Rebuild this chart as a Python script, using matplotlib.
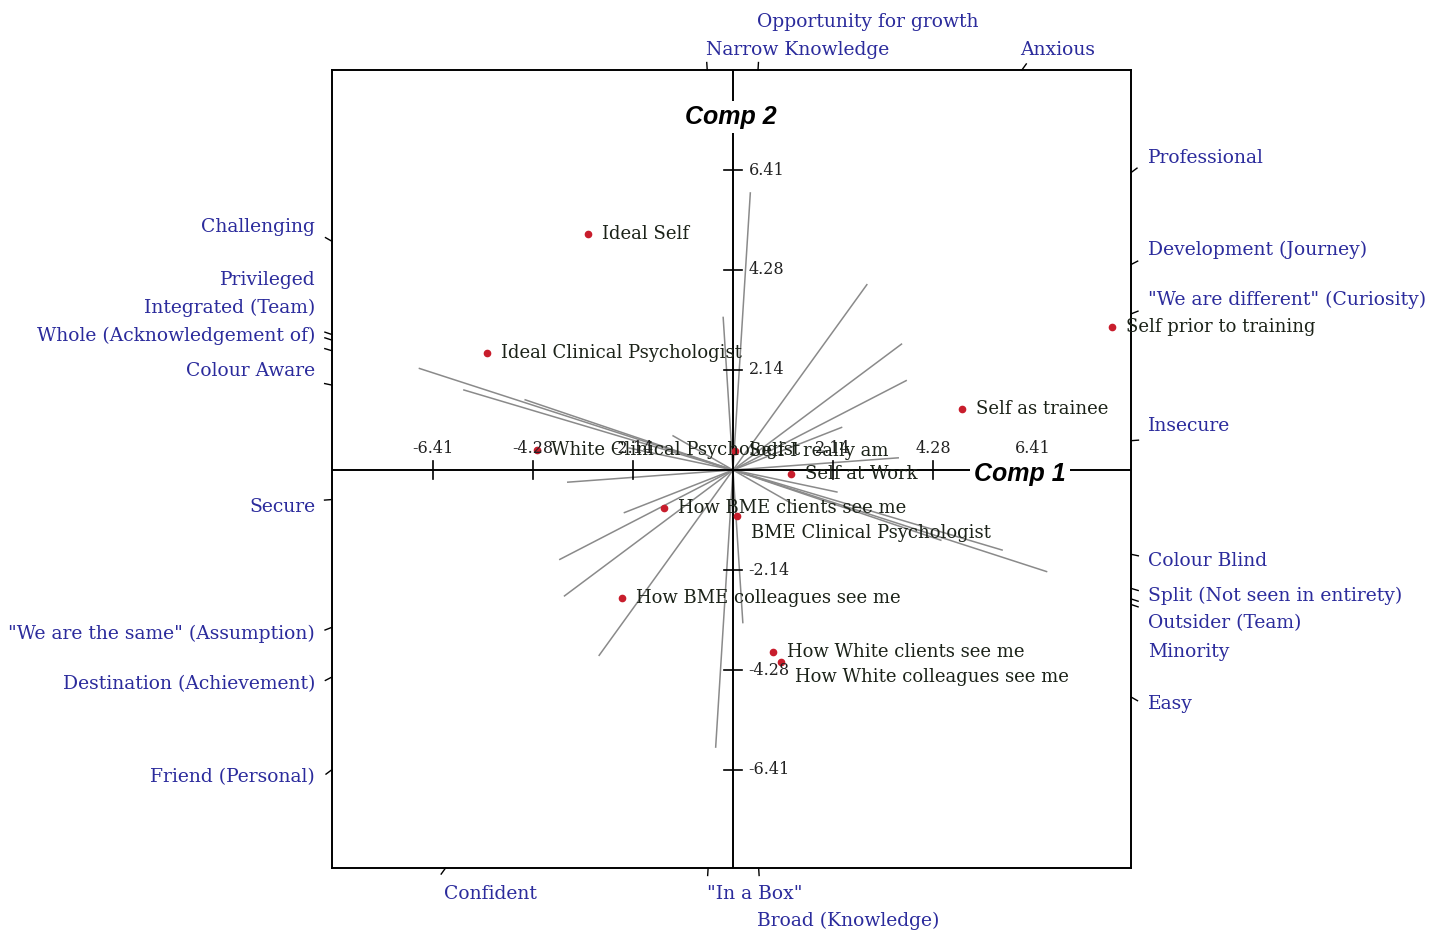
import numpy as np
import matplotlib.pyplot as plt

# element scores on components 1 and 2
element_names = ["Ideal Self", "Ideal Clinical Psychologist", "Self prior to training",
                 "Self as trainee", "White Clinical Psychologist", "Self I really am",
                 "Self at Work", "How BME clients see me", "BME Clinical Psychologist",
                 "How BME colleagues see me", "How White clients see me",
                 "How White colleagues see me"]
element_x = [-3.10, -5.26, 8.10, 4.89, -4.19, 0.05, 1.24, -1.47, 0.09, -2.37, 0.85, 1.03]
element_y = [5.04, 2.50, 3.06, 1.30, 0.43, 0.40, -0.09, -0.81, -0.98, -2.74, -3.89, -4.10]

# construct loadings: pole_pos lies at the (x, y) end, pole_neg at the opposite end
pole_pos = ["Easy", "Minority", "Outsider (Team)", "Split (Not seen in entirety)",
            "Colour Blind", "Insecure", '"We are different" (Curiosity)',
            "Development (Journey)", "Professional", "Anxious",
            "Narrow Knowledge", "Opportunity for growth"]
pole_neg = ["Challenging", "Privileged", "Integrated (Team)", "Whole (Acknowledgement of)",
            "Colour Aware", "Secure", '"We are the same" (Assumption)',
            "Destination (Achievement)", "Friend (Personal)", "Confident",
            "Broad (Knowledge)", '"In a Box"']
construct_x = [1.28, 4.44, 6.70, 5.75, 2.22, 3.53, 2.32, 3.70, 3.60, 2.86, -0.21, 0.37]
construct_y = [-0.73, -1.50, -2.17, -1.71, -0.47, 0.26, 0.91, 1.91, 2.69, 3.96, 3.26, 5.92]

axis_ticks = [-6.41, -4.28, -2.14, 2.14, 4.28, 6.41]

SERIF = "DejaVu Serif"
POLE_COLOR = "#2b2b9c"
ELEM_COLOR = "#1b2218"

X0, X1 = -8.568, 8.504
Y0, Y1 = -8.504, 8.547

fig = plt.figure(figsize=(14.42, 9.33), dpi=100)
ax = fig.add_axes([332 / 1442, 65 / 933, 799 / 1442, 798 / 933])
ax.set_xlim(X0, X1)
ax.set_ylim(Y0, Y1)
ax.set_xticks([])
ax.set_yticks([])
for sp in ax.spines.values():
    sp.set_linewidth(1.4)

# component axes
ax.plot([X0, X1], [0, 0], color="black", lw=1.4, zorder=3)
ax.plot([0, 0], [Y0, Y1], color="black", lw=1.4, zorder=3)
for t in axis_ticks:
    ax.plot([t, t], [-0.19, 0.19], color="black", lw=1.2, zorder=3)
    ax.plot([-0.19, 0.19], [t, t], color="black", lw=1.2, zorder=3)
    ax.text(t, 0.45, f"{t:.2f}", ha="center", va="center", fontsize=11.5,
            family=SERIF, color="#222222", zorder=5)
    ax.text(0.33, t, f"{t:.2f}", ha="left", va="center", fontsize=11.5,
            family=SERIF, color="#222222", zorder=5)

ax.text(6.13, -0.09, "Comp 1", ha="center", va="center", fontsize=18,
        family="Liberation Sans", weight="bold", style="italic", zorder=6,
        bbox=dict(facecolor="white", edgecolor="none", pad=3))
ax.text(-0.04, 7.54, "Comp 2", ha="center", va="center", fontsize=18,
        family="Liberation Sans", weight="bold", style="italic", zorder=6,
        bbox=dict(facecolor="white", edgecolor="none", pad=3))

# construct vectors drawn through the origin
cx = np.array(construct_x)
cy = np.array(construct_y)
for x, y in zip(cx, cy):
    ax.plot([-x, x], [-y, y], color="#8a8a8a", lw=1.1, zorder=2)


def border_hit(dx, dy):
    hits = []
    if dx > 0:
        hits.append((X1 / dx, "right"))
    if dx < 0:
        hits.append((X0 / dx, "left"))
    if dy > 0:
        hits.append((Y1 / dy, "top"))
    if dy < 0:
        hits.append((Y0 / dy, "bottom"))
    t, side = min(hits)
    return dx * t, dy * t, side


sides = {"left": [], "right": [], "top": [], "bottom": []}
for x, y, pp, pn in zip(cx, cy, pole_pos, pole_neg):
    for sgn, name in ((1, pp), (-1, pn)):
        hx, hy, side = border_hit(sgn * x, sgn * y)
        d = np.array([sgn * x, sgn * y]) / np.hypot(x, y)
        ax.plot([hx, hx + 0.16 * d[0]], [hy, hy + 0.16 * d[1]], color="black",
                lw=1.0, clip_on=False)
        sides[side].append((hx, hy, name))

# pole labels on the left and right edges, spread apart vertically
GAP = 0.6
for side in ("left", "right"):
    items = sides[side]
    upper = sorted([(hy + 0.31, n) for hx, hy, n in items if hy > 0])
    lower = sorted([(hy - 0.15, n) for hx, hy, n in items if hy <= 0], reverse=True)
    placed = []
    prev = None
    for ly, n in upper:
        if prev is not None and ly < prev + GAP:
            ly = prev + GAP
        placed.append((ly, n))
        prev = ly
    prev = None
    for ly, n in lower:
        if prev is not None and ly > prev - GAP:
            ly = prev - GAP
        placed.append((ly, n))
        prev = ly
    for ly, n in placed:
        if side == "left":
            ax.text(X0 - 0.36, ly, n, ha="right", va="center", fontsize=13.5,
                    family=SERIF, color=POLE_COLOR, clip_on=False)
        else:
            ax.text(X1 + 0.36, ly, n, ha="left", va="center", fontsize=13.5,
                    family=SERIF, color=POLE_COLOR, clip_on=False)

# pole labels above and below the box, stacked when they crowd
for side, base, step in (("top", Y1 + 0.43, 0.6), ("bottom", Y0 - 0.55, -0.58)):
    rows = []
    for hx, hy, n in sorted(sides[side]):
        r = 0
        while any(rr == r and abs(hx - px) < 4 for px, rr in rows):
            r += 1
        rows.append((hx, r))
        ax.text(hx - 0.03, base + r * step, n, ha="left", va="center", fontsize=13.5,
                family=SERIF, color=POLE_COLOR, clip_on=False)

# elements
label_shift = {"BME Clinical Psychologist": -0.36, "How White colleagues see me": -0.32}
ax.plot(element_x, element_y, "o", color="#c81d2c", ms=4.5, zorder=4)
for n, x, y in zip(element_names, element_x, element_y):
    ax.text(x + 0.3, y + label_shift.get(n, 0), n, ha="left", va="center",
            fontsize=13, family=SERIF, color=ELEM_COLOR, zorder=5)

fig.savefig("out.png", dpi=100, facecolor="white")
